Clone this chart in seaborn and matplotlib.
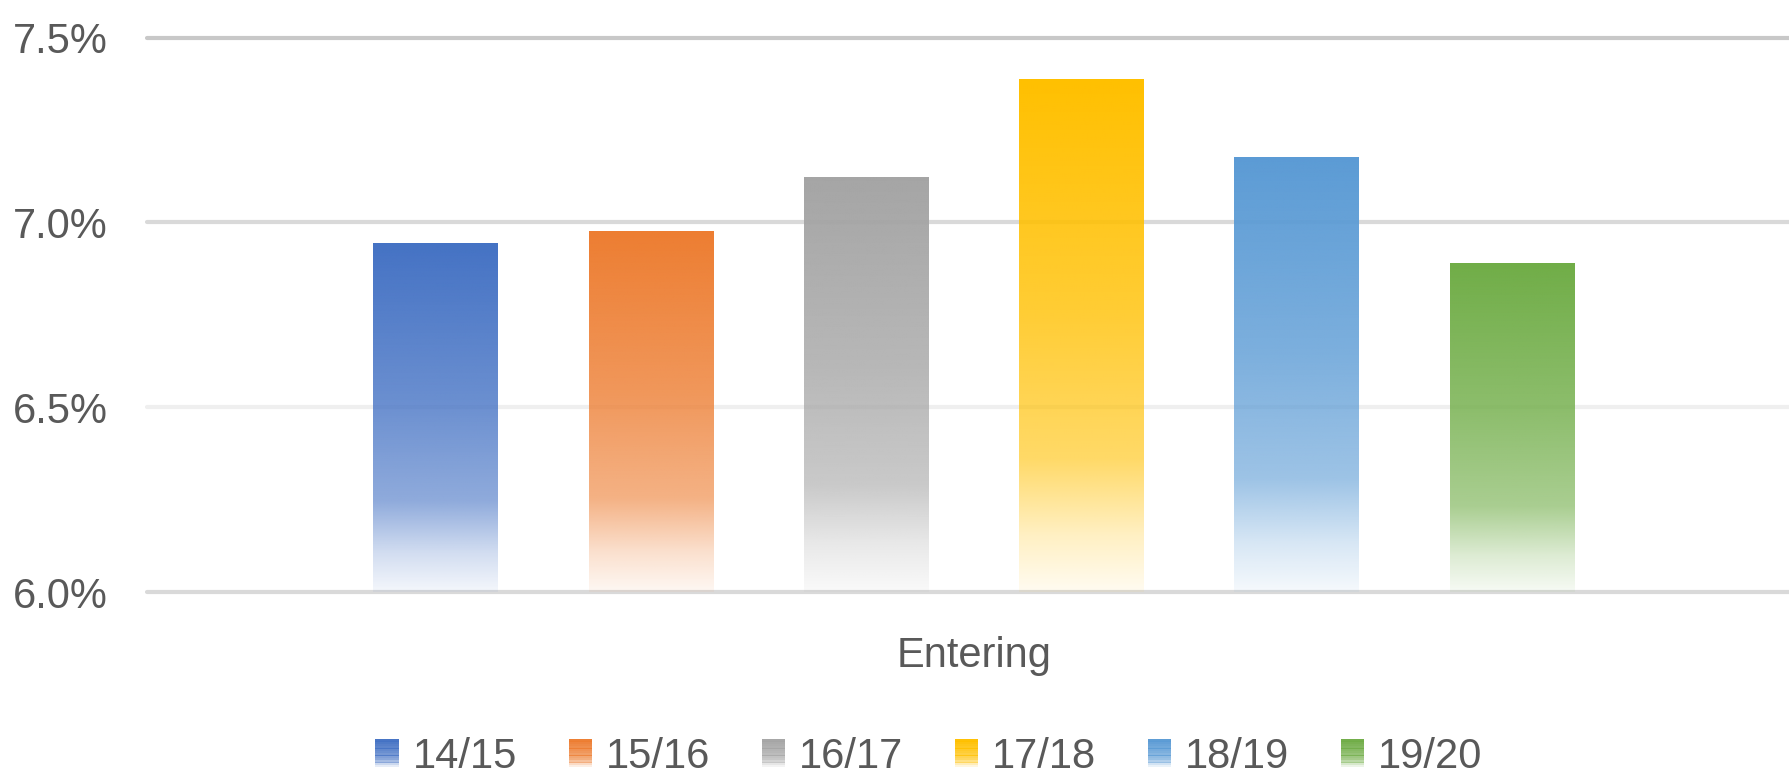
import numpy as np
import pandas as pd
import matplotlib
matplotlib.use("Agg")
import matplotlib.pyplot as plt
import seaborn as sns
from matplotlib.patches import Patch, Rectangle
from matplotlib.legend_handler import HandlerBase
from matplotlib.colors import to_rgb

# ---- data ----
category = "Entering"
seasons = ["14/15", "15/16", "16/17", "17/18", "18/19", "19/20"]
values = [6.944, 6.976, 7.122, 7.386, 7.176, 6.889]
colors = ["#4472C4", "#ED7D31", "#A5A5A5", "#FFC000", "#5B9BD5", "#70AD47"]
yticks = [6.0, 6.5, 7.0, 7.5]

sns.set_theme(style="white")
plt.rcParams["font.family"] = ["Liberation Sans", "DejaVu Sans"]
TXT = "#595959"

df = pd.DataFrame({"season": seasons, "value": values})

fig = plt.figure(figsize=(17.89, 7.79), dpi=100)
ax = fig.add_axes([147 / 1789, 187 / 779, 1 - 147 / 1789, (741.3 - 187) / 779])

sns.barplot(data=df, x="season", y="value", hue="season", order=seasons,
            hue_order=seasons, palette=colors, width=0.58, legend=False,
            ax=ax, zorder=3)

ax.set_ylim(6.0, 7.5)
ax.set_xlim(-1.342, 6.287)


def alpha_at(frac):
    # frac: 0 at top of bar, 1 at bottom
    return np.interp(frac, [0.0, 0.45, 0.74, 0.89, 1.0], [1.0, 0.8, 0.6, 0.24, 0.06])


# gradient fill for each bar
for patch, col in zip(ax.patches, colors):
    x0, y0 = patch.get_x(), patch.get_y()
    w, h = patch.get_width(), patch.get_height()
    ybot, ytop = ax.get_ylim()[0], y0 + h
    n = 256
    fr = np.linspace(0, 1, n)
    rgba = np.zeros((n, 1, 4))
    rgba[:, 0, :3] = to_rgb(col)
    rgba[:, 0, 3] = alpha_at(fr)
    ax.imshow(rgba, extent=(x0, x0 + w, ybot, ytop), origin="upper",
              aspect="auto", interpolation="bilinear", zorder=3)
    patch.set_facecolor((0, 0, 0, 0))
    patch.set_edgecolor((0, 0, 0, 0))

ax.set_ylim(6.0, 7.5)
ax.set_xlim(-1.342, 6.287)

# gridlines
grid_cols = {6.0: "#D9D9D9", 6.5: "#EFEFEF", 7.0: "#D9D9D9", 7.5: "#C8C8C8"}
for yv in yticks:
    ax.axhline(yv, color=grid_cols[yv], lw=3.0, zorder=1, clip_on=False)

for s in ax.spines.values():
    s.set_visible(False)

ax.set_yticks(yticks)
ax.set_yticklabels([f"{v:.1f}%" for v in yticks])
ax.tick_params(axis="y", length=0, pad=28, labelsize=30, labelcolor=TXT)
ax.set_xticks([2.5])
ax.set_xticklabels([category])
ax.tick_params(axis="x", length=0, pad=32, labelsize=30, labelcolor=TXT)
ax.set_xlabel("")
ax.set_ylabel("")


class GradHandler(HandlerBase):
    def create_artists(self, legend, orig_handle, xdescent, ydescent, width,
                       height, fontsize, trans):
        col = orig_handle.get_facecolor()[:3]
        n = 12
        arts = []
        for i in range(n):
            frac = (i + 0.5) / n
            yb = -ydescent + height * (1 - (i + 1) / n)
            r = Rectangle((-xdescent, yb), width, height / n + 0.3,
                          facecolor=col, alpha=float(alpha_at(frac)),
                          lw=0, transform=trans)
            arts.append(r)
        return arts


handles = [Patch(facecolor=c, label=s) for s, c in zip(seasons, colors)]
leg = fig.legend(handles=handles, loc="center", ncol=6,
                 bbox_to_anchor=(929 / 1789, 1 - 757 / 779), frameon=False,
                 fontsize=30, labelcolor=TXT, handlelength=0.56,
                 handleheight=0.65, handletextpad=0.34, columnspacing=1.23,
                 handler_map={Patch: GradHandler()})

fig.savefig("out.png", dpi=100, facecolor="white")
